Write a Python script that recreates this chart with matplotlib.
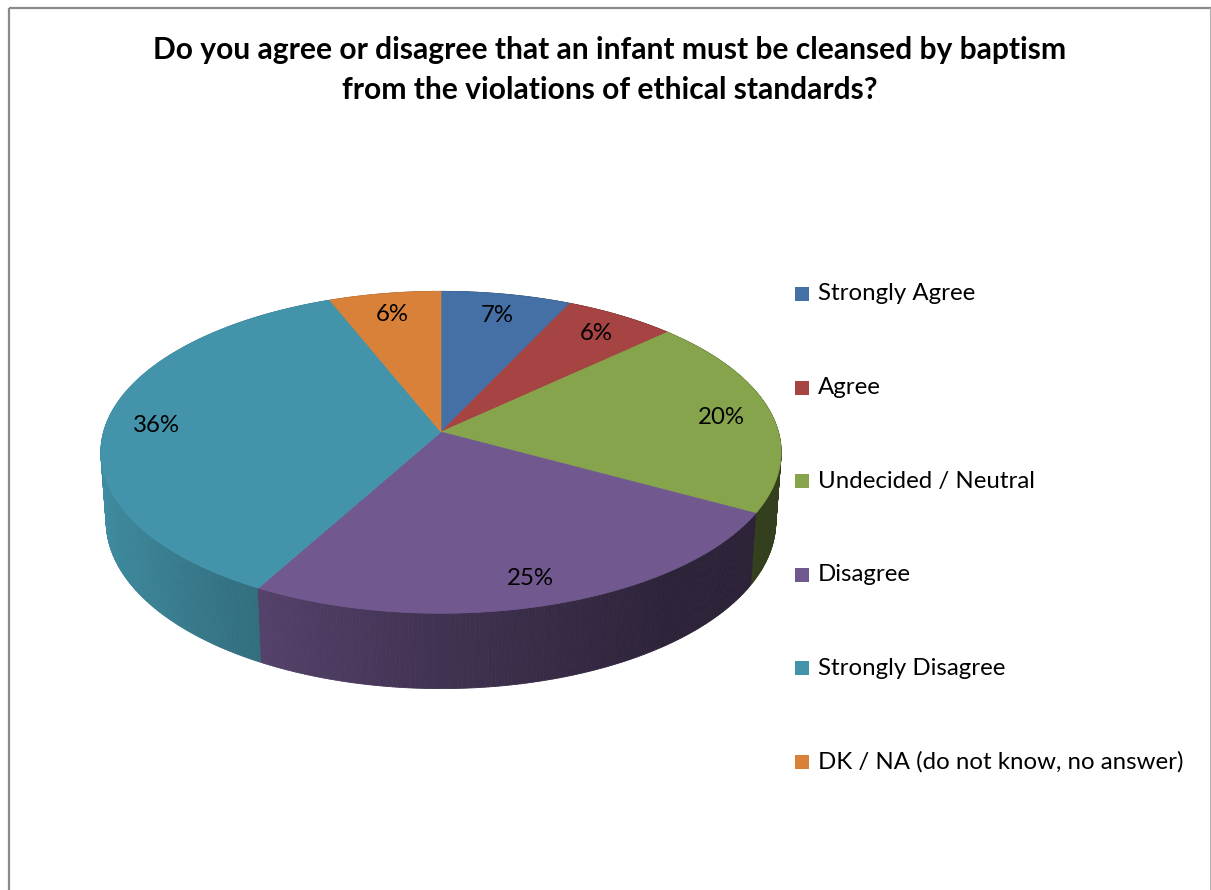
import numpy as np
import matplotlib
matplotlib.use("Agg")
import matplotlib.pyplot as plt
from matplotlib.patches import Polygon, Rectangle
from matplotlib.collections import PolyCollection
from matplotlib.colors import to_rgb

# ---- data ----
categories = ["Strongly Agree", "Agree", "Undecided / Neutral", "Disagree",
              "Strongly Disagree", "DK / NA (do not know, no answer)"]
shares = [7, 6, 20, 25, 36, 6]
colors = ["#4570A6", "#A64443", "#86A44B", "#71588F", "#4394AA", "#D98139"]
title = ("Do you agree or disagree that an infant must be cleansed by baptism\n"
         "from the violations of ethical standards?")

FONT = "Lato"
W, H = 1211, 890
fig = plt.figure(figsize=(W / 100, H / 100), dpi=100)
ax = fig.add_axes([0, 0, 1, 1])
ax.set_xlim(0, W)
ax.set_ylim(H, 0)
ax.axis("off")

# ---- simple perspective camera for a 3-D pie (disk radius = 1) ----
CX, CY = 441, 432
ELEV = np.radians(28)
DIST = 7.0
FOCAL = 2362
THICK = 0.2345
SIN_E, COS_E = np.sin(ELEV), np.cos(ELEV)


def project(x, y, z):
    d = DIST + y * COS_E - z * SIN_E
    return CX + FOCAL * x / d, CY - FOCAL * (y * SIN_E + z * COS_E) / d


def wall_shade(theta):
    c = np.cos(theta)
    return np.interp(c, [-1.0, -0.53, 0.0, 0.6, 1.0],
                     [0.95, 0.76, 0.57, 0.40, 0.38])


total = float(sum(shares))
fracs = np.array(shares) / total
starts = np.pi / 2 - 2 * np.pi * np.concatenate([[0], np.cumsum(fracs)[:-1]])
ends = starts - 2 * np.pi * fracs

# ---- outer side wall ----
quads, qcols, qdepth = [], [], []
for s, e, col in zip(starts, ends, colors):
    n = max(int(np.degrees(s - e) * 2), 2)
    th = np.linspace(s, e, n + 1)
    base = np.array(to_rgb(col))
    for a, b in zip(th[:-1], th[1:]):
        xa, ya = np.cos(a), np.sin(a)
        xb, yb = np.cos(b), np.sin(b)
        p1 = project(xa, ya, 0)
        p2 = project(xb, yb, 0)
        p3 = project(xb, yb, -THICK)
        p4 = project(xa, ya, -THICK)
        quads.append([p1, p2, p3, p4])
        m = 0.5 * (a + b)
        qcols.append(np.clip(base * wall_shade(m), 0, 1))
        qdepth.append(np.sin(m))
order = np.argsort(qdepth)[::-1]
pc = PolyCollection([quads[i] for i in order],
                    facecolors=[qcols[i] for i in order],
                    edgecolors=[qcols[i] for i in order], linewidths=0.6)
ax.add_collection(pc)

# ---- top face ----
for s, e, col in zip(starts, ends, colors):
    th = np.linspace(s, e, 200)
    xs, ys = project(np.cos(th), np.sin(th), 0 * th)
    cx0, cy0 = project(0.0, 0.0, 0.0)
    pts = np.column_stack([np.r_[cx0, xs], np.r_[cy0, ys]])
    ax.add_patch(Polygon(pts, closed=True, facecolor=col, edgecolor=col,
                         linewidth=0.5))

# ---- percentage labels ----
for s, e, v in zip(starts, ends, shares):
    m = 0.5 * (s + e)
    lx, ly = project(0.85 * np.cos(m), 0.85 * np.sin(m), 0.0)
    ax.text(lx, ly + 2, f"{v}%", ha="center", va="center", fontsize=17.3,
            family=FONT, color="black")

# ---- title ----
ax.text(610, 70, title, ha="center", va="center", fontsize=21.6,
        fontweight="bold", family=FONT, linespacing=1.5, color="black")

# ---- legend ----
for i, (lab, col) in enumerate(zip(categories, colors)):
    yc = 294 + i * 93.6
    ax.add_patch(Rectangle((795, yc - 7), 14, 14, facecolor=col,
                           edgecolor="none"))
    ax.text(818, yc, lab, ha="left", va="center", fontsize=17.3,
            family=FONT, color="black")

# ---- chart frame ----
ax.plot([8.5, 8.5], [H + 5, 7.5], color="#8a8a8a", lw=1.6,
        solid_capstyle="butt")
ax.plot([8.5, 1210.5], [7.5, 7.5], color="#8a8a8a", lw=1.6,
        solid_capstyle="butt")
ax.plot([1210.3, 1210.3], [7.5, H + 5], color="#b0b0b0", lw=0.8)

fig.savefig("out.png", dpi=100)
